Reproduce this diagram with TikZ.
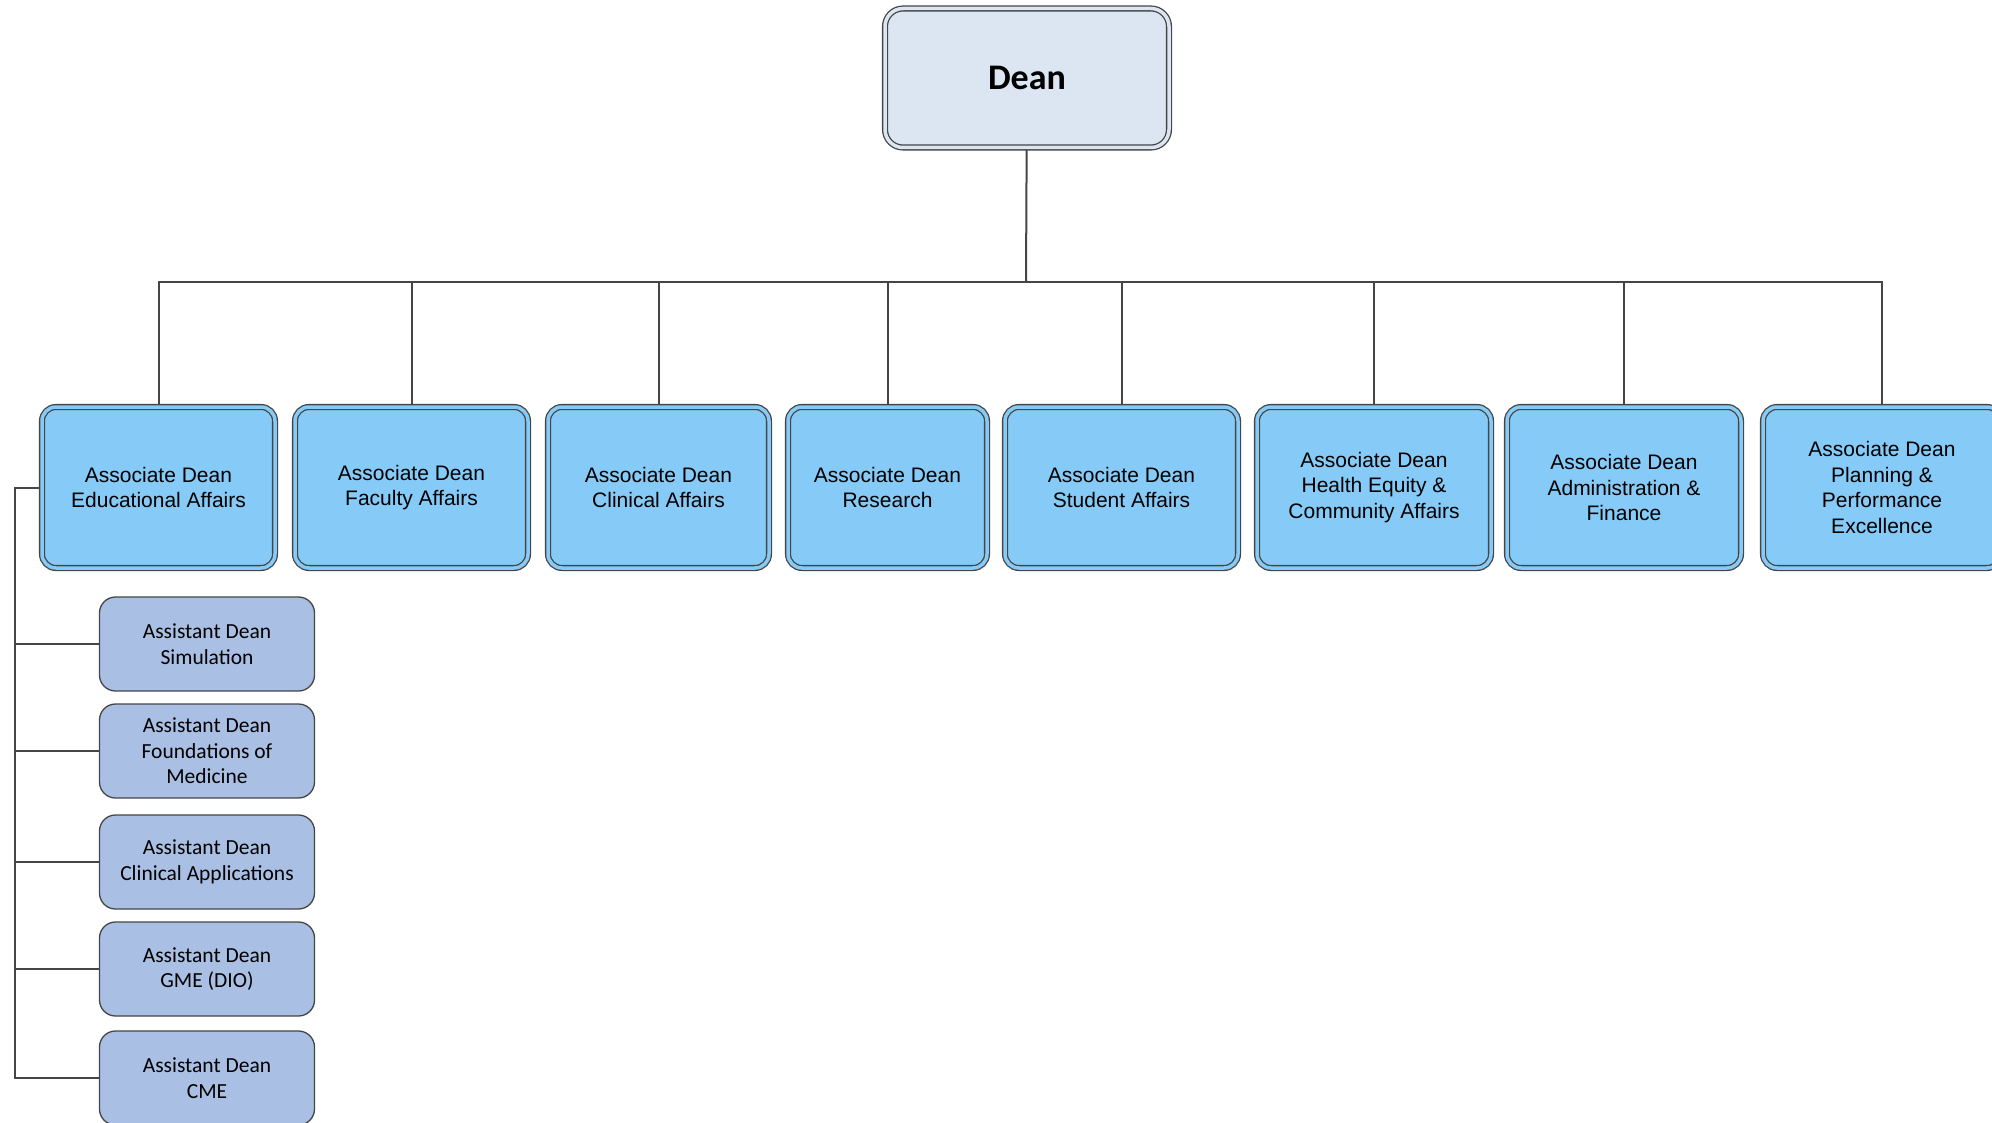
\documentclass[tikz,border=0pt]{standalone}
\usepackage{fontspec}
\setmainfont{Liberation Sans}
\newfontfamily\arialfont{Liberation Sans}
\newfontfamily\calfont{Carlito}
\usetikzlibrary{backgrounds}
\definecolor{deanfill}{HTML}{DCE6F2}
\definecolor{assocfill}{HTML}{86CBF7}
\definecolor{asstfill}{HTML}{A9BFE3}
\definecolor{edge}{HTML}{454545}
\begin{document}
\begin{tikzpicture}[x=1pt,y=-1pt,
  deanbox/.style={draw=edge,line width=1.3pt,double=deanfill,double distance=3.5pt,fill=deanfill,rounded corners=18pt,minimum width=284pt,minimum height=139pt,inner sep=0pt,font=\calfont\bfseries\fontsize{36}{40}\selectfont},
  assocbox/.style={draw=edge,line width=1.3pt,double=assocfill,double distance=3.5pt,fill=assocfill,rounded corners=14pt,minimum height=161pt,inner sep=0pt,align=center,font=\arialfont\fontsize{21}{25.5}\selectfont},
  asstbox/.style={draw=edge,line width=1.3pt,fill=asstfill,rounded corners=16pt,minimum width=215pt,minimum height=94pt,inner sep=0pt,align=center,font=\calfont\fontsize{21.5}{25.5}\selectfont},
  conn/.style={draw=edge,line width=2pt}]
\useasboundingbox (0,0) rectangle (1992,1123);
\node[deanbox] (dean) at (1027,78) {Dean};
\node[assocbox,minimum width=233pt] (a1) at (158.5,487.5) {Associate Dean\\Educational Affairs};
\node[assocbox,minimum width=233pt] (a2) at (411.5,487.5) {Associate Dean\\Faculty Affairs};
\node[assocbox,minimum width=221pt] (a3) at (658.5,487.5) {Associate Dean\\Clinical Affairs};
\node[assocbox,minimum width=199pt] (a4) at (887.5,487.5) {Associate Dean\\Research};
\node[assocbox,minimum width=233pt] (a5) at (1121.5,487.5) {Associate Dean\\Student Affairs};
\node[assocbox,minimum width=234pt] (a6) at (1374,487.5) {Associate Dean\\Health Equity \&\\Community Affairs};
\node[assocbox,minimum width=234pt] (a7) at (1624,487.5) {Associate Dean\\Administration \&\\Finance};
\node[assocbox,minimum width=238pt] (a8) at (1882,487.5) {Associate Dean\\Planning \&\\Performance\\Excellence};
\node[asstbox] (s1) at (207,644) {Assistant Dean\\Simulation};
\node[asstbox] (s2) at (207,751) {Assistant Dean\\Foundations of\\Medicine};
\node[asstbox] (s3) at (207,862) {Assistant Dean\\Clinical Applications};
\node[asstbox] (s4) at (207,969) {Assistant Dean\\GME (DIO)};
\node[asstbox] (s5) at (207,1078) {Assistant Dean\\CME};
\coordinate (bus) at (1026,282);
\coordinate (trunk) at (15,487.5);
\begin{pgfonlayer}{background}
\draw[conn] (dean) -- (bus);
\foreach \n in {a1,a2,a3,a4,a5,a6,a7,a8}{\draw[conn] (bus) -| (\n.north);}
\draw[conn] (a1.west) -- (trunk) |- (s5.west);
\foreach \n in {s1,s2,s3,s4}{\draw[conn] (trunk) |- (\n.west);}
\end{pgfonlayer}
\end{tikzpicture}
\end{document}
